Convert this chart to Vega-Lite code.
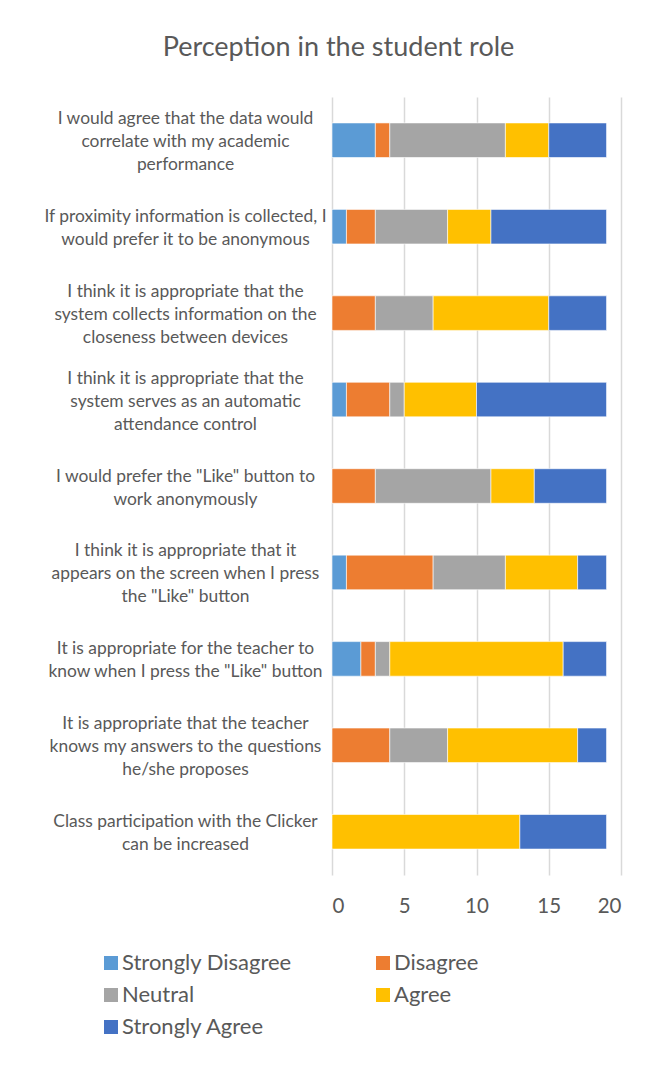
{
  "$schema": "https://vega.github.io/schema/vega-lite/v6.json",
  "autosize": {"type": "none"},
  "padding": {"left": 332, "top": 97, "right": 43, "bottom": 202},
  "width": 289,
  "height": 778,
  "background": "white",
  "config": {"view": {"stroke": null}, "font": "Lato"},
  "title": {"text": "Perception in the student role", "fontSize": 27, "font": "Lato", "fontWeight": "normal", "color": "#595959", "anchor": "middle", "frame": "group", "dx": -138, "offset": 35},
  "data": {"values": [
    {"q": "I would agree that the data would\ncorrelate with my academic\nperformance", "resp": "Strongly Disagree", "o": 1, "n": 3},
    {"q": "I would agree that the data would\ncorrelate with my academic\nperformance", "resp": "Disagree", "o": 2, "n": 1},
    {"q": "I would agree that the data would\ncorrelate with my academic\nperformance", "resp": "Neutral", "o": 3, "n": 8},
    {"q": "I would agree that the data would\ncorrelate with my academic\nperformance", "resp": "Agree", "o": 4, "n": 3},
    {"q": "I would agree that the data would\ncorrelate with my academic\nperformance", "resp": "Strongly Agree", "o": 5, "n": 4},
    {"q": "If proximity information is collected, I\nwould prefer it to be anonymous", "resp": "Strongly Disagree", "o": 1, "n": 1},
    {"q": "If proximity information is collected, I\nwould prefer it to be anonymous", "resp": "Disagree", "o": 2, "n": 2},
    {"q": "If proximity information is collected, I\nwould prefer it to be anonymous", "resp": "Neutral", "o": 3, "n": 5},
    {"q": "If proximity information is collected, I\nwould prefer it to be anonymous", "resp": "Agree", "o": 4, "n": 3},
    {"q": "If proximity information is collected, I\nwould prefer it to be anonymous", "resp": "Strongly Agree", "o": 5, "n": 8},
    {"q": "I think it is appropriate that the\nsystem collects information on the\ncloseness between devices", "resp": "Strongly Disagree", "o": 1, "n": 0},
    {"q": "I think it is appropriate that the\nsystem collects information on the\ncloseness between devices", "resp": "Disagree", "o": 2, "n": 3},
    {"q": "I think it is appropriate that the\nsystem collects information on the\ncloseness between devices", "resp": "Neutral", "o": 3, "n": 4},
    {"q": "I think it is appropriate that the\nsystem collects information on the\ncloseness between devices", "resp": "Agree", "o": 4, "n": 8},
    {"q": "I think it is appropriate that the\nsystem collects information on the\ncloseness between devices", "resp": "Strongly Agree", "o": 5, "n": 4},
    {"q": "I think it is appropriate that the\nsystem serves as an automatic\nattendance control", "resp": "Strongly Disagree", "o": 1, "n": 1},
    {"q": "I think it is appropriate that the\nsystem serves as an automatic\nattendance control", "resp": "Disagree", "o": 2, "n": 3},
    {"q": "I think it is appropriate that the\nsystem serves as an automatic\nattendance control", "resp": "Neutral", "o": 3, "n": 1},
    {"q": "I think it is appropriate that the\nsystem serves as an automatic\nattendance control", "resp": "Agree", "o": 4, "n": 5},
    {"q": "I think it is appropriate that the\nsystem serves as an automatic\nattendance control", "resp": "Strongly Agree", "o": 5, "n": 9},
    {"q": "I would prefer the \"Like\" button to\nwork anonymously", "resp": "Strongly Disagree", "o": 1, "n": 0},
    {"q": "I would prefer the \"Like\" button to\nwork anonymously", "resp": "Disagree", "o": 2, "n": 3},
    {"q": "I would prefer the \"Like\" button to\nwork anonymously", "resp": "Neutral", "o": 3, "n": 8},
    {"q": "I would prefer the \"Like\" button to\nwork anonymously", "resp": "Agree", "o": 4, "n": 3},
    {"q": "I would prefer the \"Like\" button to\nwork anonymously", "resp": "Strongly Agree", "o": 5, "n": 5},
    {"q": "I think it is appropriate that it\nappears on the screen when I press\nthe \"Like\" button", "resp": "Strongly Disagree", "o": 1, "n": 1},
    {"q": "I think it is appropriate that it\nappears on the screen when I press\nthe \"Like\" button", "resp": "Disagree", "o": 2, "n": 6},
    {"q": "I think it is appropriate that it\nappears on the screen when I press\nthe \"Like\" button", "resp": "Neutral", "o": 3, "n": 5},
    {"q": "I think it is appropriate that it\nappears on the screen when I press\nthe \"Like\" button", "resp": "Agree", "o": 4, "n": 5},
    {"q": "I think it is appropriate that it\nappears on the screen when I press\nthe \"Like\" button", "resp": "Strongly Agree", "o": 5, "n": 2},
    {"q": "It is appropriate for the teacher to\nknow when I press the \"Like\" button", "resp": "Strongly Disagree", "o": 1, "n": 2},
    {"q": "It is appropriate for the teacher to\nknow when I press the \"Like\" button", "resp": "Disagree", "o": 2, "n": 1},
    {"q": "It is appropriate for the teacher to\nknow when I press the \"Like\" button", "resp": "Neutral", "o": 3, "n": 1},
    {"q": "It is appropriate for the teacher to\nknow when I press the \"Like\" button", "resp": "Agree", "o": 4, "n": 12},
    {"q": "It is appropriate for the teacher to\nknow when I press the \"Like\" button", "resp": "Strongly Agree", "o": 5, "n": 3},
    {"q": "It is appropriate that the teacher\nknows my answers to the questions\nhe/she proposes", "resp": "Strongly Disagree", "o": 1, "n": 0},
    {"q": "It is appropriate that the teacher\nknows my answers to the questions\nhe/she proposes", "resp": "Disagree", "o": 2, "n": 4},
    {"q": "It is appropriate that the teacher\nknows my answers to the questions\nhe/she proposes", "resp": "Neutral", "o": 3, "n": 4},
    {"q": "It is appropriate that the teacher\nknows my answers to the questions\nhe/she proposes", "resp": "Agree", "o": 4, "n": 9},
    {"q": "It is appropriate that the teacher\nknows my answers to the questions\nhe/she proposes", "resp": "Strongly Agree", "o": 5, "n": 2},
    {"q": "Class participation with the Clicker\ncan be increased", "resp": "Strongly Disagree", "o": 1, "n": 0},
    {"q": "Class participation with the Clicker\ncan be increased", "resp": "Disagree", "o": 2, "n": 0},
    {"q": "Class participation with the Clicker\ncan be increased", "resp": "Neutral", "o": 3, "n": 0},
    {"q": "Class participation with the Clicker\ncan be increased", "resp": "Agree", "o": 4, "n": 13},
    {"q": "Class participation with the Clicker\ncan be increased", "resp": "Strongly Agree", "o": 5, "n": 6}
  ]},
  "mark": {"type": "bar", "stroke": "white", "strokeWidth": 0.6},
  "encoding": {
    "y": {
      "field": "q", "type": "nominal", "sort": null,
      "scale": {"paddingInner": 0.6, "paddingOuter": 0.3},
      "axis": {"title": null, "labelExpr": "split(datum.label, '\\n')", "labelAlign": "center", "labelBaseline": "middle", "labelPadding": 147, "labelLimit": 400, "labelFontSize": 17.4, "labelLineHeight": 23, "labelColor": "#595959", "labelOffset": {"condition": {"test": "length(split(datum.label, '\\n')) == 3", "value": -21}, "value": -9.5}, "domain": false, "ticks": false, "grid": false}
    },
    "x": {
      "field": "n", "type": "quantitative", "stack": "zero",
      "scale": {"domain": [0, 20], "nice": false},
      "axis": {"title": null, "values": [0, 5, 10, 15, 20], "grid": true, "gridColor": "#d9d9d9", "gridWidth": 1.5, "domain": false, "ticks": false, "labelFontSize": 20.5, "labelColor": "#595959", "labelPadding": 21}
    },
    "color": {
      "field": "resp", "type": "nominal",
      "scale": {"domain": ["Strongly Disagree", "Disagree", "Neutral", "Agree", "Strongly Agree"], "range": ["#5B9BD5", "#ED7D31", "#A5A5A5", "#FFC000", "#4472C4"]},
      "legend": {"title": null, "orient": "none", "direction": "horizontal", "legendX": -232, "legendY": 855, "columns": 2, "symbolType": "square", "symbolSize": 196, "symbolStrokeWidth": 0, "labelFontSize": 22, "labelColor": "#595959", "rowPadding": 10, "columnPadding": 80, "symbolOffset": 0, "labelOffset": 0, "labelLimit": 300}
    },
    "order": {"field": "o", "type": "quantitative"}
  }
}
